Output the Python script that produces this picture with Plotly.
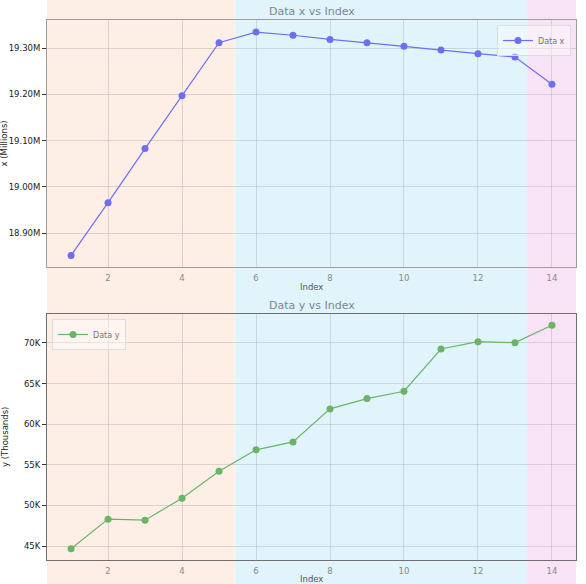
import plotly.graph_objects as go
from plotly.subplots import make_subplots

# -------------------------
# DATA
# -------------------------
index = [1, 2, 3, 4, 5, 6, 7, 8, 9, 10, 11, 12, 13, 14]
data_x = [18852000, 18966000, 19083000, 19197000, 19312000, 19335000, 19328000,
          19319000, 19312000, 19304000, 19296000, 19288000, 19281000, 19222000]
data_y = [44670, 48320, 48190, 50900, 54220, 56850, 57820,
          61890, 63160, 64060, 69260, 70160, 70040, 72180]

x_tickvals = [18.9e6, 19.0e6, 19.1e6, 19.2e6, 19.3e6]
x_ticktext = ["18.90M", "19.00M", "19.10M", "19.20M", "19.30M"]
y_tickvals = [45000, 50000, 55000, 60000, 65000, 70000]
y_ticktext = ["45K", "50K", "55K", "60K", "65K", "70K"]

# shaded phases along the index axis
spans = [(0.0, 5.44, "#fdefe6"), (5.44, 13.33, "#e1f4fc"), (13.33, 15.0, "#f7e3f5")]

FONT = "DejaVu Sans"
TITLE_GRAY = "#7a8691"

fig = make_subplots(rows=2, cols=1, vertical_spacing=0.0)

fig.add_trace(go.Scatter(
    x=index, y=data_x, mode="lines+markers", name="Data x",
    line=dict(color="#6e6ef2", width=1.2),
    marker=dict(size=7, color="#6e6ef2"),
    legend="legend"
), row=1, col=1)

fig.add_trace(go.Scatter(
    x=index, y=data_y, mode="lines+markers", name="Data y",
    line=dict(color="#6ab46a", width=1.2),
    marker=dict(size=7, color="#6ab46a"),
    legend="legend2"
), row=2, col=1)

# background spans, running the full height of the figure
for x0, x1, col in spans:
    fig.add_shape(type="rect", xref="x", yref="paper",
                  x0=x0, x1=x1, y0=-0.06, y1=1.06,
                  fillcolor=col, line=dict(width=0), layer="below")

grid = "rgba(160,160,160,0.35)"
common_x = dict(range=[0.35, 14.65], tickvals=[2, 4, 6, 8, 10, 12, 14],
                showgrid=True, gridcolor=grid, gridwidth=1, zeroline=False,
                ticks="", ticklabelstandoff=3,
                tickfont=dict(size=8.5, color="#888888", family=FONT),
                showline=True, mirror=True, automargin=False)
fig.update_xaxes(**common_x)
fig.update_xaxes(linecolor="#a09a98", row=1, col=1)
fig.update_xaxes(linecolor="#707070", row=2, col=1)

common_y = dict(showgrid=True, gridcolor=grid, gridwidth=1, zeroline=False,
                ticks="outside", ticklen=4, tickcolor="#333333",
                tickfont=dict(size=8.5, color="#222222", family=FONT),
                showline=True, mirror=True, automargin=False)
fig.update_yaxes(**common_y)
fig.update_yaxes(range=[18827000, 19361000], tickvals=x_tickvals, ticktext=x_ticktext,
                 linecolor="#a09a98", row=1, col=1)
fig.update_yaxes(range=[43290, 73570], tickvals=y_tickvals, ticktext=y_ticktext,
                 linecolor="#707070", row=2, col=1)

legend_style = dict(bgcolor="rgba(255,255,255,0.4)", bordercolor="#dddddd", borderwidth=1,
                    font=dict(size=8, color="#777777", family=FONT), itemwidth=30,
                    tracegroupgap=0)
fig.update_layout(
    width=586, height=584,
    margin=dict(l=47, r=10, t=20, b=24, autoexpand=False),
    paper_bgcolor="white", plot_bgcolor="white",
    font=dict(family=FONT),
    xaxis=dict(domain=[0, 1]), xaxis2=dict(domain=[0, 1]),
    yaxis=dict(domain=[0.5426, 1.0]), yaxis2=dict(domain=[0.0, 0.4556]),
    legend=dict(x=0.9905, y=0.9907, xanchor="right", yanchor="top", **legend_style),
    legend2=dict(x=0.0095, y=0.4463, xanchor="left", yanchor="top", **legend_style),
    showlegend=True,
)

# subplot titles
fig.add_annotation(text="Data x vs Index", xref="paper", yref="paper", x=0.5, y=1.0,
                   xanchor="center", yanchor="bottom", showarrow=False,
                   font=dict(size=11, color=TITLE_GRAY, family=FONT))
fig.add_annotation(text="Data y vs Index", xref="paper", yref="paper", x=0.5, y=0.4556,
                   xanchor="center", yanchor="bottom", showarrow=False,
                   font=dict(size=11, color=TITLE_GRAY, family=FONT))

# axis titles
fig.add_annotation(text="x (Millions)", xref="paper", yref="paper", x=-0.0794, y=0.7713,
                   textangle=-90, xanchor="center", yanchor="middle", showarrow=False,
                   font=dict(size=8.5, color="#222222", family=FONT))
fig.add_annotation(text="y (Thousands)", xref="paper", yref="paper", x=-0.0794, y=0.2278,
                   textangle=-90, xanchor="center", yanchor="middle", showarrow=False,
                   font=dict(size=8.5, color="#222222", family=FONT))
fig.add_annotation(text="Index", xref="paper", yref="paper", x=0.5, y=0.5056,
                   xanchor="center", yanchor="middle", showarrow=False,
                   font=dict(size=8.5, color="#555555", family=FONT))
fig.add_annotation(text="Index", xref="paper", yref="paper", x=0.5, y=-0.035,
                   xanchor="center", yanchor="middle", showarrow=False,
                   font=dict(size=8.5, color="#555555", family=FONT))

# drop the page's default body margin so the figure sits at the window corner
fig.write_html("out.html", config={"displayModeBar": False},
               post_script="document.body.style.margin='0';")
